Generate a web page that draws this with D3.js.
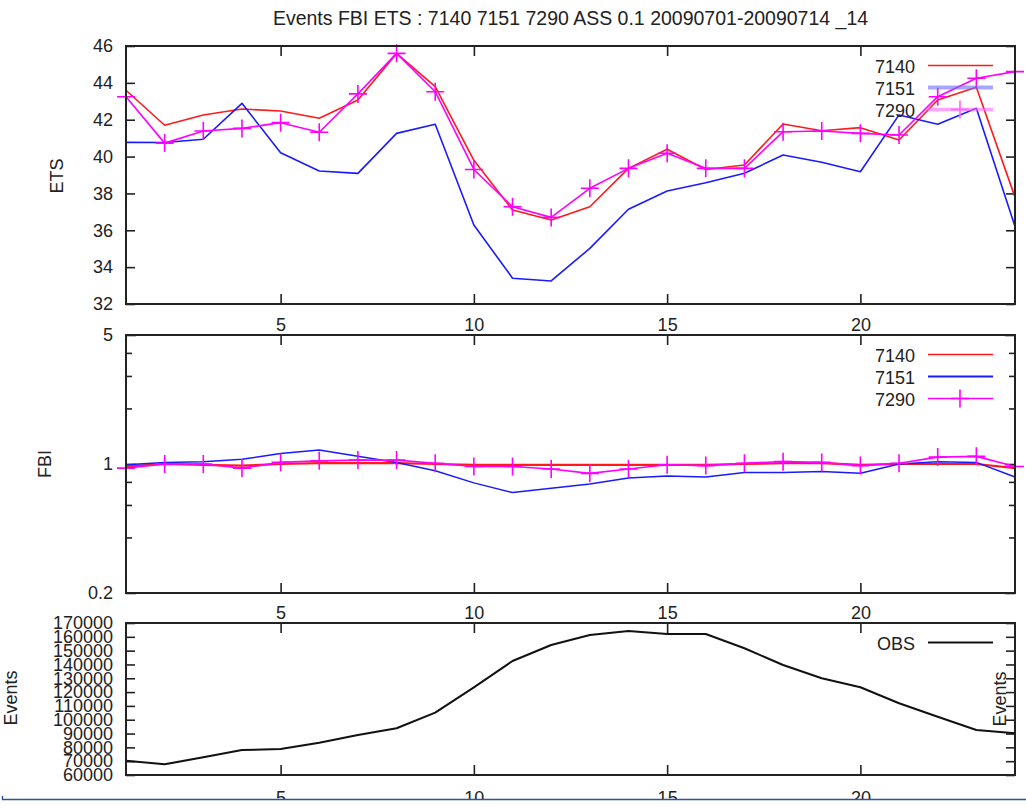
<!DOCTYPE html>
<html>
<head>
<meta charset="utf-8">
<script src="https://cdn.jsdelivr.net/npm/d3@7"></script>
<style>
  html, body { margin: 0; padding: 0; background: #fff; }
  svg { display: block; }
  text { font-family: "Liberation Sans", Arial, sans-serif; fill: #222; }
</style>
</head>
<body>
<svg id="chart" width="1026" height="809"></svg>
<script>
// Forecast hours along the x axis
const hours = [1, 2, 3, 4, 5, 6, 7, 8, 9, 10, 11, 12, 13, 14, 15, 16, 17, 18, 19, 20, 21, 22, 23, 24];
const hourTicks = [5, 10, 15, 20];

// Equitable threat score per model
const ets7140 = [43.6, 41.7, 42.26, 42.58, 42.47, 42.08, 43.07, 45.6, 43.8, 39.8, 37.1, 36.56, 37.28, 39.36, 40.4, 39.3, 39.54, 41.77, 41.4, 41.57, 40.9, 43.07, 43.76, 37.8];
const ets7151 = [40.77, 40.76, 40.94, 42.89, 40.21, 39.22, 39.09, 41.26, 41.75, 36.29, 33.4, 33.25, 35.02, 37.14, 38.13, 38.58, 39.09, 40.09, 39.69, 39.18, 42.26, 41.75, 42.62, 36.2];
const ets7290 = [43.25, 40.73, 41.39, 41.53, 41.84, 41.32, 43.4, 45.6, 43.52, 39.3, 37.28, 36.7, 38.28, 39.36, 40.18, 39.36, 39.36, 41.35, 41.39, 41.26, 41.17, 43.25, 44.25, 44.61];

// Frequency bias per model
const fbi7140 = [0.97, 1.0, 0.99, 0.98, 1.0, 1.01, 1.01, 1.01, 1.0, 0.99, 0.99, 0.99, 0.99, 0.99, 0.99, 0.99, 1.0, 1.01, 1.01, 0.99, 1.0, 1.0, 1.0, 0.95];
const fbi7151 = [0.99, 1.02, 1.03, 1.06, 1.14, 1.19, 1.10, 1.02, 0.92, 0.79, 0.70, 0.74, 0.78, 0.84, 0.86, 0.85, 0.90, 0.90, 0.91, 0.89, 1.0, 1.03, 1.02, 0.85];
const fbi7290 = [0.95, 1.0, 1.0, 0.95, 1.02, 1.04, 1.05, 1.05, 1.01, 0.97, 0.97, 0.94, 0.89, 0.94, 0.99, 0.98, 1.01, 1.03, 1.02, 0.98, 1.01, 1.09, 1.10, 0.97];

// Observed event counts
const obsEvents = [70350, 67740, 72800, 78100, 78800, 83400, 88950, 93800, 105100, 123450, 142500, 154100, 161300, 164200, 162000, 162000, 151700, 139600, 130000, 123500, 111900, 102200, 92600, 90200];

const etsTicks = [32, 34, 36, 38, 40, 42, 44, 46];
const fbiMajor = [0.2, 1, 5];
const fbiMinor = [0.4, 0.6, 0.8, 2, 3, 4];
const eventTicks = [60000, 70000, 80000, 90000, 100000, 110000, 120000, 130000, 140000, 150000, 160000, 170000];

const titleText = "Events FBI ETS : 7140 7151 7290 ASS 0.1 20090701-20090714 _14";

const svg = d3.select("#chart");
const FS = 18;
const left = 126, right = 1015;
const panels = {
  ets: { top: 46, bottom: 304 },
  fbi: { top: 335, bottom: 593 },
  obs: { top: 623, bottom: 775 }
};

const x = d3.scaleLinear().domain([1, 24]).range([left, right]);
const yEts = d3.scaleLinear().domain([32, 46]).range([panels.ets.bottom, panels.ets.top]);
const yFbi = d3.scaleLog().domain([0.2, 5]).range([panels.fbi.bottom, panels.fbi.top]);
const yObs = d3.scaleLinear().domain([60000, 170000]).range([panels.obs.bottom, panels.obs.top]);

const RED = "#ff1a1a", BLUE = "#1a1aff", MAG = "#ff00ff";

function styleAxis(g) {
  g.select(".domain").remove();
  g.selectAll("line").attr("stroke", "#222").attr("stroke-width", 1.6);
  g.selectAll("text").attr("font-size", FS).attr("font-family", '"Liberation Sans", Arial, sans-serif').attr("fill", "#222");
}

// Hour ticks on both edges of a panel; numbers are written once below each panel
// (they double as the labels above the next panel down)
function xAxes(p, pad) {
  svg.append("g").attr("transform", `translate(0,${p.bottom})`)
    .call(d3.axisBottom(x).tickValues(hourTicks).tickSize(-10).tickPadding(pad).tickFormat(d3.format("d")))
    .call(styleAxis);
  svg.append("g").attr("transform", `translate(0,${p.top})`)
    .call(d3.axisTop(x).tickValues(hourTicks).tickSize(-10).tickFormat(() => ""))
    .call(styleAxis);
}

function frame(p) {
  svg.append("rect").attr("x", left).attr("y", p.top)
    .attr("width", right - left).attr("height", p.bottom - p.top)
    .attr("fill", "none").attr("stroke", "#222").attr("stroke-width", 2);
}

function seriesLine(xs, ys, yScale, color, width) {
  const line = d3.line().x((d, i) => x(xs[i])).y(d => yScale(d));
  svg.append("path").datum(ys).attr("d", line)
    .attr("fill", "none").attr("stroke", color).attr("stroke-width", width)
    .attr("stroke-linejoin", "round");
}

function plusMarkers(xs, ys, yScale, color) {
  svg.append("g").selectAll("path").data(ys).join("path")
    .attr("transform", (d, i) => `translate(${x(xs[i])},${yScale(d)})`)
    .attr("d", "M-9,0H9M0,-9V9")
    .attr("stroke", color).attr("stroke-width", 1.6).attr("fill", "none");
}

function legend(p, items) {
  items.forEach((it, i) => {
    const yy = p.top + 19.5 + i * 22;
    svg.append("text").attr("x", 915).attr("y", yy).attr("dy", 7)
      .attr("text-anchor", "end").attr("font-size", FS).text(it.label);
    svg.append("line").attr("x1", 928).attr("x2", 993).attr("y1", yy).attr("y2", yy)
      .attr("stroke", it.color).attr("stroke-width", it.width || 1.5)
      .attr("stroke-opacity", it.opacity || 1);
    if (it.marker) {
      svg.append("path").attr("transform", `translate(960,${yy})`)
        .attr("d", "M-9,0H9M0,-9V9").attr("stroke", it.color).attr("stroke-width", 1.6);
    }
  });
}

function axisTitle(label, cx, cy) {
  svg.append("text").attr("transform", `translate(${cx},${cy}) rotate(-90)`)
    .attr("text-anchor", "middle").attr("dy", "0.35em").attr("font-size", FS).text(label);
}

// Title
svg.append("text").attr("x", (left + right) / 2).attr("y", 25)
  .attr("text-anchor", "middle").attr("font-size", 19.5).text(titleText);

// ---- ETS panel ----
{
  const p = panels.ets;
  svg.append("g").attr("transform", `translate(${left},0)`)
    .call(d3.axisLeft(yEts).tickValues(etsTicks).tickSize(-9).tickPadding(13).tickFormat(d3.format("d")))
    .call(styleAxis);
  svg.append("g").attr("transform", `translate(${right},0)`)
    .call(d3.axisRight(yEts).tickValues(etsTicks).tickSize(-9).tickFormat(() => ""))
    .call(styleAxis);
  xAxes(p, 14);
  seriesLine(hours, ets7140, yEts, RED, 1.6);
  seriesLine(hours, ets7151, yEts, BLUE, 1.6);
  seriesLine(hours, ets7290, yEts, MAG, 1.6);
  plusMarkers(hours, ets7290, yEts, MAG);
  legend(p, [
    { label: "7140", color: RED, width: 1.5 },
    { label: "7151", color: "#6a6aff", width: 4, opacity: 0.6 },
    { label: "7290", color: "#ff66ff", width: 3.5, opacity: 0.6, marker: true }
  ]);
  frame(p);
  axisTitle("ETS", 57, 176);
}

// ---- FBI panel (log scale) ----
{
  const p = panels.fbi;
  svg.append("g").attr("transform", `translate(${left},0)`)
    .call(d3.axisLeft(yFbi).tickValues(fbiMajor).tickSize(-10).tickPadding(13).tickFormat(d3.format("")))
    .call(styleAxis);
  svg.append("g").attr("transform", `translate(${left},0)`)
    .call(d3.axisLeft(yFbi).tickValues(fbiMinor).tickSize(-6).tickFormat(() => ""))
    .call(styleAxis);
  svg.append("g").attr("transform", `translate(${right},0)`)
    .call(d3.axisRight(yFbi).tickValues(fbiMajor).tickSize(-10).tickFormat(() => ""))
    .call(styleAxis);
  svg.append("g").attr("transform", `translate(${right},0)`)
    .call(d3.axisRight(yFbi).tickValues(fbiMinor).tickSize(-6).tickFormat(() => ""))
    .call(styleAxis);
  xAxes(p, 13);
  seriesLine(hours, fbi7140, yFbi, RED, 2.2);
  seriesLine(hours, fbi7151, yFbi, BLUE, 1.5);
  seriesLine(hours, fbi7290, yFbi, MAG, 1.6);
  plusMarkers(hours, fbi7290, yFbi, MAG);
  legend(p, [
    { label: "7140", color: RED, width: 1.5 },
    { label: "7151", color: BLUE, width: 2.2 },
    { label: "7290", color: MAG, width: 1.5, marker: true }
  ]);
  frame(p);
  axisTitle("FBI", 45, 464);
}

// ---- Observed events panel ----
{
  const p = panels.obs;
  svg.append("g").attr("transform", `translate(${left},0)`)
    .call(d3.axisLeft(yObs).tickValues(eventTicks).tickSize(-9).tickPadding(13).tickFormat(d3.format("d")))
    .call(styleAxis);
  svg.append("g").attr("transform", `translate(${right},0)`)
    .call(d3.axisRight(yObs).tickValues(eventTicks).tickSize(-9).tickFormat(() => ""))
    .call(styleAxis);
  xAxes(p, 16);
  seriesLine(hours, obsEvents, yObs, "#111", 2);
  legend(p, [{ label: "OBS", color: "#111", width: 2 }]);
  frame(p);
  axisTitle("Events", 11, 698);
  axisTitle("Events", 1000, 699);
}

// Bottom edge of the sheet
svg.append("rect").attr("x", 0).attr("y", 800).attr("width", 1026).attr("height", 9).attr("fill", "#fff");
svg.append("path").attr("d", "M2.5,796V799.5H1026")
  .attr("fill", "none").attr("stroke", "#2f4fa8").attr("stroke-width", 1.4);
</script>
</body>
</html>
